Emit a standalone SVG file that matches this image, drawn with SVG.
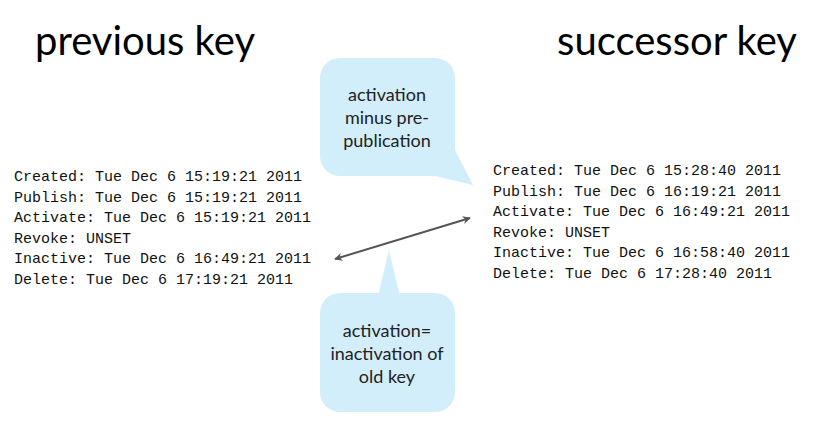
<svg xmlns="http://www.w3.org/2000/svg" width="818" height="427" viewBox="0 0 818 427">
<defs>
<style>
.t{font-family:Lato,"Open Sans",sans-serif;font-size:40px;fill:#000}
.c{font-family:Lato,"Open Sans",sans-serif;font-size:18px;fill:#222;text-anchor:middle}
.m{font-family:"Liberation Mono",monospace;font-size:15px;fill:#111}
.b{fill:#d3eefb}
</style>
<marker id="ah" viewBox="0 0 10 10" refX="9" refY="5" markerWidth="8" markerHeight="8" orient="auto-start-reverse" markerUnits="userSpaceOnUse"><path d="M0,0 L10,5 L0,10 L3,5 Z" fill="#555"/></marker>
</defs>
<rect width="818" height="427" fill="#fff"/>
<g id="title-prev"><text class="t" x="35" y="55">previous key</text></g>
<g id="title-succ"><text class="t" x="797" y="55" text-anchor="end">successor key</text></g>
<g id="callout-top">
<rect class="b" x="320" y="58" width="135" height="118" rx="20"/>
<path class="b" d="M455,150 L473,185 L435,176 Z"/>
<text class="c" x="387" y="101">activation</text>
<text class="c" x="387" y="124">minus pre-</text>
<text class="c" x="387" y="147">publication</text>
</g>
<g id="callout-bottom">
<rect class="b" x="320" y="293" width="135" height="119" rx="20"/>
<path class="b" d="M378,296 L389,250 L400,296 Z"/>
<text class="c" x="387" y="337">activation=</text>
<text class="c" x="387" y="360">inactivation of</text>
<text class="c" x="387" y="383">old key</text>
</g>
<g id="prev-key" class="m">
<text x="14" y="181">Created: Tue Dec  6 15:19:21 2011</text>
<text x="14" y="202">Publish: Tue Dec  6 15:19:21 2011</text>
<text x="14" y="222">Activate: Tue Dec  6 15:19:21 2011</text>
<text x="14" y="243">Revoke: UNSET</text>
<text x="14" y="263">Inactive: Tue Dec  6 16:49:21 2011</text>
<text x="14" y="284">Delete: Tue Dec  6 17:19:21 2011</text>
</g>
<g id="succ-key" class="m">
<text x="493" y="175">Created: Tue Dec  6 15:28:40 2011</text>
<text x="493" y="196">Publish: Tue Dec  6 16:19:21 2011</text>
<text x="493" y="216">Activate: Tue Dec  6 16:49:21 2011</text>
<text x="493" y="237">Revoke: UNSET</text>
<text x="493" y="257">Inactive: Tue Dec  6 16:58:40 2011</text>
<text x="493" y="278">Delete: Tue Dec  6 17:28:40 2011</text>
</g>
<g id="connectors">
<line x1="335" y1="259" x2="470" y2="218" stroke="#555" stroke-width="2" marker-start="url(#ah)" marker-end="url(#ah)"/>
</g>
</svg>
